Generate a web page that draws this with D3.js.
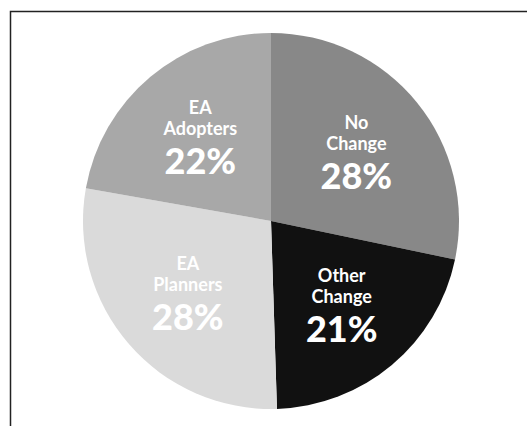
<!DOCTYPE html>
<html>
<head>
<meta charset="utf-8">
<script src="https://cdn.jsdelivr.net/npm/d3@7"></script>
<style>
  html, body { margin: 0; padding: 0; background: #fff; }
  svg { display: block; }
</style>
</head>
<body>
<div id="chart"></div>
<script>
// slices, clockwise from 12 o'clock
const categories = ["No Change", "Other Change", "EA Planners", "EA Adopters"];
const labelLines = [["No", "Change"], ["Other", "Change"], ["EA", "Planners"], ["EA", "Adopters"]];
const shares = [28, 21, 28, 22];
const sliceColors = ["#888888", "#111111", "#dadada", "#a8a8a8"];

const W = 527, H = 426;
const CX = 271, CY = 221, R = 188;

const svg = d3.select("#chart").append("svg")
    .attr("width", W)
    .attr("height", H);

// frame (only top and left edges show in the scan)
svg.append("path")
    .attr("d", "M10.5," + H + " V11.5 H" + W)
    .attr("fill", "none")
    .attr("stroke", "#222")
    .attr("stroke-width", 1.5);

const data = categories.map((c, i) => ({name: c, value: shares[i], lines: labelLines[i], color: sliceColors[i]}));

const pie = d3.pie().sort(null).value(d => d.value);
const arcs = pie(data);

const arc = d3.arc().innerRadius(0).outerRadius(R);
const labelArc = d3.arc().innerRadius(110).outerRadius(110);

const g = svg.append("g").attr("transform", `translate(${CX},${CY})`);

g.selectAll("path.slice")
  .data(arcs)
  .enter()
  .append("path")
    .attr("class", "slice")
    .attr("d", arc)
    .attr("fill", d => d.data.color);

const labels = g.selectAll("g.label")
  .data(arcs)
  .enter()
  .append("g")
    .attr("class", "label")
    .attr("transform", d => {
      const [x, y] = labelArc.centroid(d);
      return `translate(${x},${y})`;
    })
    .attr("fill", "#fff")
    .attr("text-anchor", "middle")
    .style("font-family", "Lato, sans-serif");

labels.append("text")
    .attr("y", -23)
    .style("font-size", "18px")
    .style("font-weight", 700)
    .text(d => d.data.lines[0]);

labels.append("text")
    .attr("y", -2)
    .style("font-size", "18px")
    .style("font-weight", 700)
    .text(d => d.data.lines[1]);

labels.append("text")
    .attr("y", 37)
    .style("font-size", "36px")
    .style("font-weight", 900)
    .text(d => d.data.value + "%");
</script>
</body>
</html>
